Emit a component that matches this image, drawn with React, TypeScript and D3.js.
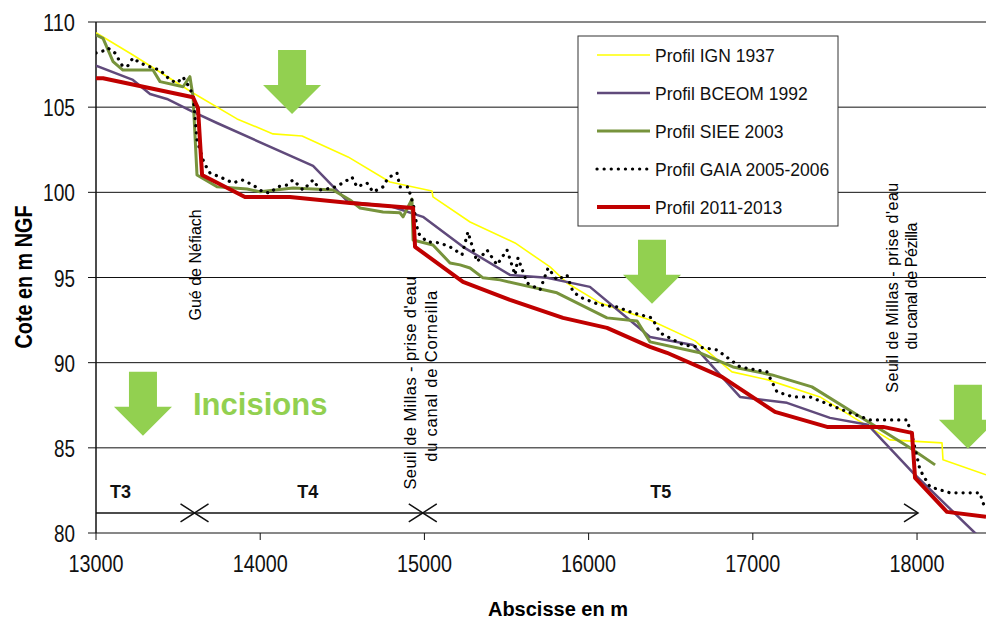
import React from "react";
import * as d3 from "d3";

// Long profile of the river bed, abscissa in m, elevation in m NGF
const ign1937: [number, number][] = [
  [13000, 109.37], [13225, 108.06], [13591, 105.83], [13859, 104.31], [14078, 103.43],
  [14255, 103.31], [14535, 102.08], [14790, 100.61], [15046, 100.08], [15052, 99.73],
  [15278, 98.26], [15552, 97.03], [15765, 95.62], [15868, 94.68], [16069, 93.51],
  [16374, 92.51], [16648, 91.28], [16873, 89.46], [17092, 88.99], [17409, 87.99],
  [17835, 85.47], [18152, 85.29], [18158, 84.3], [18420, 83.42],
];

const bceom1992: [number, number][] = [
  [13000, 107.44], [13225, 106.6], [13329, 105.77], [13432, 105.48], [13591, 104.72],
  [13737, 104.07], [14322, 101.55], [14535, 99.44], [14790, 99.2], [14991, 98.56],
  [15235, 96.8], [15521, 95.15], [15747, 94.98], [16008, 94.45], [16270, 92.34],
  [16374, 91.51], [16636, 91.04], [16922, 87.99], [17208, 87.64], [17470, 86.76],
  [17701, 86.35], [17976, 83.53], [18353, 80.0], [18420, 79.5],
];

const siee2003: [number, number][] = [
  [13000, 109.24], [13043, 109.04], [13104, 107.67], [13164, 107.18], [13347, 107.18],
  [13390, 106.5], [13530, 106.2], [13572, 106.79], [13591, 105.62], [13615, 101.02],
  [13737, 100.33], [13920, 100.2], [13999, 100.03], [14200, 100.26], [14443, 100.14],
  [14547, 99.55], [14608, 99.08], [14748, 98.85], [14851, 98.8], [14870, 98.56],
  [14924, 99.6], [14931, 97.2], [15052, 96.91], [15156, 95.85], [15217, 95.74],
  [15278, 95.56], [15357, 94.98], [15460, 94.86], [15807, 94.1], [16112, 92.63],
  [16295, 92.45], [16374, 91.22], [16678, 90.58], [16879, 89.75], [17117, 89.28],
  [17360, 88.58], [17634, 86.94], [17957, 85.0], [18110, 84.0],
];

const gaia2005: [number, number][] = [
  [13000, 108.18], [13043, 108.3], [13073, 108.47], [13116, 108.18], [13158, 107.47],
  [13189, 107.36], [13225, 107.89], [13268, 107.59], [13347, 107.3], [13390, 107.18],
  [13451, 106.6], [13493, 106.42], [13530, 106.77], [13560, 106.3], [13591, 105.72],
  [13615, 103.08], [13633, 102.49], [13658, 101.73], [13694, 101.14], [13767, 100.85],
  [13834, 100.55], [13889, 100.73], [13956, 100.43], [14017, 100.02], [14060, 99.96],
  [14102, 100.32], [14163, 100.43], [14200, 100.73], [14261, 100.14], [14322, 100.73],
  [14364, 100.14], [14443, 100.26], [14504, 100.55], [14559, 100.9], [14589, 100.32],
  [14650, 100.55], [14687, 100.02], [14748, 100.32], [14778, 100.85], [14833, 101.14],
  [14851, 100.32], [14900, 100.32], [14924, 99.55], [14931, 99.38], [14961, 97.62],
  [15016, 97.09], [15095, 97.03], [15168, 96.74], [15229, 96.33], [15265, 97.68],
  [15320, 95.92], [15381, 96.62], [15442, 95.74], [15503, 96.62], [15552, 95.15],
  [15570, 96.15], [15625, 94.68], [15704, 94.27], [15753, 95.56], [15807, 94.86],
  [15868, 95.15], [15905, 94.15], [15960, 93.8], [16069, 93.39], [16173, 93.27],
  [16270, 92.92], [16386, 92.63], [16435, 91.75], [16575, 91.05], [16782, 90.75],
  [16922, 89.75], [17086, 89.46], [17147, 88.29], [17245, 87.99], [17348, 87.99],
  [17592, 87.05], [17714, 86.64], [17939, 86.64], [17976, 85.47], [18018, 83.71],
  [18079, 82.71], [18201, 82.36], [18383, 82.36], [18402, 81.77], [18420, 81.36],
];

const profil2011: [number, number][] = [
  [13000, 106.7], [13043, 106.7], [13591, 105.58], [13621, 104.95], [13646, 101.02],
  [13907, 99.73], [14181, 99.73], [14547, 99.38], [14931, 99.08], [14943, 96.8],
  [15235, 94.74], [15521, 93.69], [15844, 92.63], [16112, 92.04], [16374, 90.93],
  [16477, 90.58], [16812, 89.17], [17135, 87.11], [17452, 86.23], [17793, 86.23],
  [17969, 85.88], [17988, 83.24], [18182, 81.24], [18420, 80.95],
];

const seriesNames = [
  "Profil IGN 1937",
  "Profil BCEOM 1992",
  "Profil SIEE 2003",
  "Profil GAIA 2005-2006",
  "Profil 2011-2013",
];

const xTicks = [13000, 14000, 15000, 16000, 17000, 18000];
const yTicks = [80, 85, 90, 95, 100, 105, 110];

// reaches (tronçons) drawn as arrows along the bottom
const reaches = [
  { label: "T3", from: 13000, to: 13600, labelX: 13150, startHead: false },
  { label: "T4", from: 13600, to: 14990, labelX: 14290, startHead: true },
  { label: "T5", from: 14990, to: 18006, labelX: 16440, startHead: true },
];

// green "incision" arrows (x centre, top elevation)
const incisionArrows: [number, number][] = [
  [14194, 108.36],
  [16386, 97.21],
  [13286, 89.46],
  [18310, 88.7],
];

const styles = [
  { color: "#FFFF00", width: 1.6, dash: null },
  { color: "#604A7B", width: 2.5, dash: null },
  { color: "#77933C", width: 3, dash: null },
  { color: "#000000", width: 3.2, dash: "0.1 7" },
  { color: "#C00000", width: 4, dash: null },
];

const W = 986;
const H = 623;
const font = "'Liberation Sans', Arial, sans-serif";

export default function App() {
  const x = d3.scaleLinear().domain([13000, 18420]).range([96, 986]);
  const y = d3.scaleLinear().domain([80, 110]).range([533, 22]);

  const line = d3
    .line<[number, number]>()
    .x((d) => x(d[0]))
    .y((d) => y(d[1]));

  const data = [ign1937, bceom1992, siee2003, gaia2005, profil2011];
  const reachY = y(81.18);
  const green = "#92D050";

  // open arrow head, dir 1 points right, -1 points left
  const chevron = (tx: number, dir: number) =>
    `M${tx - dir * 14},${reachY - 9}L${tx},${reachY}L${tx - dir * 14},${reachY + 9}`;

  return (
    <svg
      width={W}
      height={H}
      style={{ position: "absolute", left: 0, top: 0, background: "#fff" }}
      fontFamily={font}
    >
      <defs>
        <clipPath id="plot">
          <rect x={96} y={0} width={890} height={533} />
        </clipPath>
      </defs>

      {/* gridlines */}
      {yTicks.map((t) => (
        <line key={t} x1={96} x2={986} y1={y(t)} y2={y(t)} stroke="#111" strokeWidth={1} />
      ))}

      {/* axes */}
      <line x1={96} x2={96} y1={y(110)} y2={y(80)} stroke="#111" strokeWidth={1.5} />
      {yTicks.map((t) => (
        <g key={t}>
          <line x1={88} x2={96} y1={y(t)} y2={y(t)} stroke="#111" />
          <text
            x={75}
            y={y(t) + 9}
            textAnchor="end"
            fontSize={24}
            fill="#111"
            textLength={t >= 100 ? 32 : 21}
            lengthAdjust="spacingAndGlyphs"
          >
            {t}
          </text>
        </g>
      ))}
      {xTicks.map((t) => (
        <g key={t}>
          <line x1={x(t)} x2={x(t)} y1={533} y2={540} stroke="#111" />
          <text
            x={x(t) - 27.5}
            y={572}
            fontSize={24}
            fill="#111"
            textLength={55}
            lengthAdjust="spacingAndGlyphs"
          >
            {t}
          </text>
        </g>
      ))}

      <text
        transform="translate(32,277) rotate(-90)"
        textAnchor="middle"
        fontSize={23}
        fontWeight="bold"
        textLength={143}
        lengthAdjust="spacingAndGlyphs"
      >
        Cote en m NGF
      </text>
      <text x={558} y={616} textAnchor="middle" fontSize={20} fontWeight="bold">
        Abscisse en m
      </text>

      {/* incision arrows */}
      {incisionArrows.map(([ax, ay], i) => {
        const cx = x(ax);
        const top = y(ay);
        return (
          <path
            key={i}
            d={`M${cx - 14},${top}H${cx + 14}V${top + 35}H${cx + 29}L${cx},${top + 64}L${cx - 29},${top + 35}H${cx - 14}Z`}
            fill={green}
          />
        );
      })}
      <text x={193} y={415} fontSize={31} fontWeight="bold" fill={green}>
        Incisions
      </text>

      {/* vertical annotations */}
      <text transform={`translate(${x(13640)},${y(95.74)}) rotate(-90)`} textAnchor="middle" fontSize={16}>
        Gué de Néfiach
      </text>
      <text
        transform={`translate(${x(14949)},${y(88.8)}) rotate(-90)`}
        textAnchor="middle"
        fontSize={16.5}
        textLength={213}
        lengthAdjust="spacing"
      >
        Seuil de Millas - prise d'eau
      </text>
      <text
        transform={`translate(${x(15077)},${y(89.2)}) rotate(-90)`}
        textAnchor="middle"
        fontSize={16.5}
        textLength={171}
        lengthAdjust="spacing"
      >
        du canal de Corneilla
      </text>
      <text
        transform={`translate(${x(17884)},${y(94.4)}) rotate(-90)`}
        textAnchor="middle"
        fontSize={16}
        textLength={210}
        lengthAdjust="spacing"
      >
        Seuil de Millas - prise d'eau
      </text>
      <text
        transform={`translate(${x(18000)},${y(94.5)}) rotate(-90)`}
        textAnchor="middle"
        fontSize={16}
        textLength={127}
        lengthAdjust="spacing"
      >
        du canal de Pézilla
      </text>

      {/* reaches */}
      {reaches.map((r) => (
        <g key={r.label} stroke="#111" strokeWidth={1.5} fill="none">
          <line x1={x(r.from)} x2={x(r.to)} y1={reachY} y2={reachY} />
          <path d={chevron(x(r.to), 1)} />
          {r.startHead && <path d={chevron(x(r.from), -1)} />}
          <text
            x={x(r.labelX)}
            y={reachY - 15}
            textAnchor="middle"
            fontSize={18}
            fontWeight="bold"
            fill="#111"
            stroke="none"
          >
            {r.label}
          </text>
        </g>
      ))}

      {/* profiles */}
      <g clipPath="url(#plot)">
        {data.map((d, i) => (
          <path
            key={i}
            d={line(d) || ""}
            fill="none"
            stroke={styles[i].color}
            strokeWidth={styles[i].width}
            strokeDasharray={styles[i].dash || undefined}
            strokeLinecap={styles[i].dash ? "round" : "butt"}
            strokeLinejoin="round"
          />
        ))}
      </g>

      {/* legend */}
      <rect x={578} y={36} width={260} height={190} fill="#fff" stroke="#333" strokeWidth={1} />
      {seriesNames.map((name, i) => {
        const ly = 55 + i * 38;
        return (
          <g key={name}>
            <line
              x1={597}
              x2={650}
              y1={ly}
              y2={ly}
              stroke={styles[i].color}
              strokeWidth={styles[i].width}
              strokeDasharray={styles[i].dash || undefined}
              strokeLinecap={styles[i].dash ? "round" : "butt"}
            />
            <text x={655} y={ly + 6.5} fontSize={17.5} fill="#111">
              {name}
            </text>
          </g>
        );
      })}
    </svg>
  );
}
